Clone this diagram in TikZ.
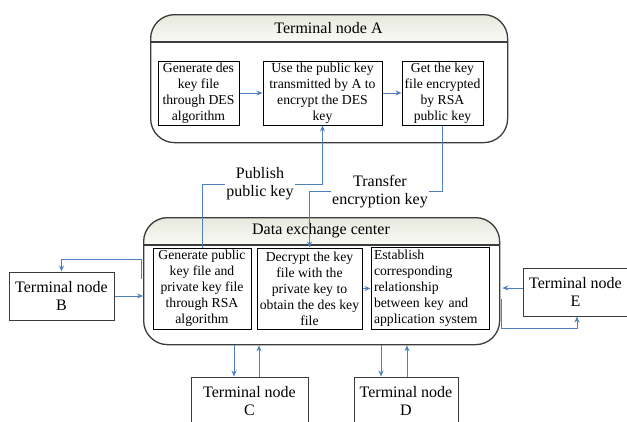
\documentclass[tikz,border=0pt]{standalone}
\usepackage{fontspec}
\setmainfont{Liberation Serif}
\usetikzlibrary{arrows.meta}

\definecolor{frame}{RGB}{60,60,60}
\definecolor{linkblue}{RGB}{79,129,189}
\definecolor{hdrtop}{RGB}{230,232,220}
\definecolor{hdrbot}{RGB}{250,250,246}

\begin{document}
\begin{tikzpicture}[x=1pt,y=-1pt,
  container/.style={draw=frame, line width=1.3pt, rounded corners=24pt, inner sep=0pt},
  stepbox/.style={draw=black, line width=1pt, inner sep=0pt,
    font=\fontsize{13.7}{16}\selectfont, align=center},
  terminal/.style={draw=frame, line width=1pt, inner sep=0pt,
    font=\fontsize{16}{18}\selectfont, align=center},
  title/.style={font=\fontsize{16}{18}\selectfont},
  link/.style={draw=linkblue, line width=0.9pt},
  tip/.style={-{Stealth[length=6pt,width=5pt]}},
  keylabel/.style={font=\fontsize{16}{18}\selectfont, align=center, fill=white, inner sep=1pt}
]
\useasboundingbox (0,0) rectangle (627,421);

% ---------- Terminal node A ----------
\begin{scope}
  \clip[rounded corners=24pt] (150,14) rectangle (507,142);
  \shade[top color=hdrtop, bottom color=hdrbot] (150,14) rectangle (507,42);
\end{scope}
\node[container, minimum width=357, minimum height=128, anchor=north west] (A) at (150,14) {};
\coordinate (ahdr) at (0,42);
\draw[frame, line width=1.3pt] (A.west |- ahdr) -- (A.east |- ahdr);
\node[title] (Atitle) at (328.5,28) {Terminal node A};

\node[stepbox, minimum width=81, minimum height=64] (a1) at (198.5,93)
  {Generate des\\key file\\through DES\\algorithm};
\node[stepbox, minimum width=119, minimum height=64] (a2) at (322.5,93)
  {Use the public key\\transmitted by A to\\encrypt the DES\\key};
\node[stepbox, minimum width=81, minimum height=64] (a3) at (442.5,93)
  {Get the key\\file encrypted\\by RSA\\public key};

% ---------- Data exchange center ----------
\begin{scope}
  \clip[rounded corners=24pt] (143,217) rectangle (499,344);
  \shade[top color=hdrtop, bottom color=hdrbot] (143,217) rectangle (499,245);
\end{scope}
\node[container, minimum width=356, minimum height=127, anchor=north west] (DEC) at (143,217) {};
\coordinate (dhdr) at (0,245);
\draw[frame, line width=1.3pt] (DEC.west |- dhdr) -- (DEC.east |- dhdr);
\node[title] (Dtitle) at (321,231) {Data exchange center};

\node[stepbox, minimum width=98, minimum height=81] (b1) at (202,288.5)
  {Generate public\\key file and\\private key file\\through RSA\\algorithm};
\node[stepbox, minimum width=105, minimum height=81] (b2) at (309.5,288.5)
  {Decrypt the key\\file with the\\private key to\\obtain the des key\\file};
\node[stepbox, minimum width=118, minimum height=81, align=left, text width=112,
  inner sep=3pt] (b3) at (430,288.5)
  {Establish\\corresponding\\relationship\\between key and\\application system};

% ---------- Terminal nodes B..E ----------
\node[terminal, minimum width=105, minimum height=48] (B) at (61.5,296) {Terminal node\\B};
\node[terminal, minimum width=105, minimum height=48] (E) at (575.5,292) {Terminal node\\E};
\node[terminal, minimum width=117, minimum height=48] (C) at (249.5,401) {Terminal node\\C};
\node[terminal, minimum width=104, minimum height=48] (D) at (406,401) {Terminal node\\D};

% ---------- connectors inside A and the exchange center ----------
\draw[link,tip] (a1.east) -- (a2.west);
\draw[link,tip] (a2.east) -- (a3.west);
\draw[link,tip] (b2.east) -- (b3.west);

% publish public key
\coordinate (pk) at (0,184);
\draw[link,tip] (b1.north) -- (b1.north |- pk) -- (a2.south |- pk) -- (a2.south);
\node[keylabel] (pubkey) at (260,184) {Publish\\public key};

% transfer encryption key
\coordinate (tk) at (0,191);
\draw[link,tip] (a3.south) -- (a3.south |- tk) -- (b2.north |- tk) -- (b2.north);
\node[keylabel] (transkey) at (380,191.5) {Transfer\\encryption key};

% ---------- links to terminal B ----------
\draw[link,tip] (B.east) -- (B.east -| DEC.west);
\coordinate (bo1) at ([xshift=-2pt]DEC.west |- 0,279);
\coordinate (bo2) at ([xshift=-2pt]DEC.west |- 0,259);
\draw[link,tip] (bo1) -- (bo2) -- (B.north |- bo2) -- (B.north);

% ---------- links to terminal E ----------
\coordinate (ei) at ([yshift=4pt]E.west);
\draw[link,tip] (ei) -- ([xshift=2pt]ei -| DEC.east);
\coordinate (eo1) at ([xshift=1pt]DEC.east |- 0,299);
\coordinate (eo2) at ([xshift=1pt]DEC.east |- 0,328);
\coordinate (eo3) at ([xshift=1.5pt]E.south);
\draw[link,tip] (eo1) -- (eo2) -- (eo3 |- eo2) -- (eo3);

% ---------- links to terminals C and D ----------
\coordinate (cdn) at ([xshift=-15.5pt]C.north);
\coordinate (cup) at ([xshift=9.5pt]C.north);
\draw[link,tip] (cdn |- DEC.south) -- (cdn);
\draw[link,tip] (cup) -- (cup |- DEC.south);
\coordinate (ddn) at ([xshift=-25pt]D.north);
\coordinate (dup) at ([xshift=1pt]D.north);
\draw[link,tip] (ddn |- DEC.south) -- (ddn);
\draw[link,tip] (dup) -- (dup |- DEC.south);
\end{tikzpicture}
\end{document}
